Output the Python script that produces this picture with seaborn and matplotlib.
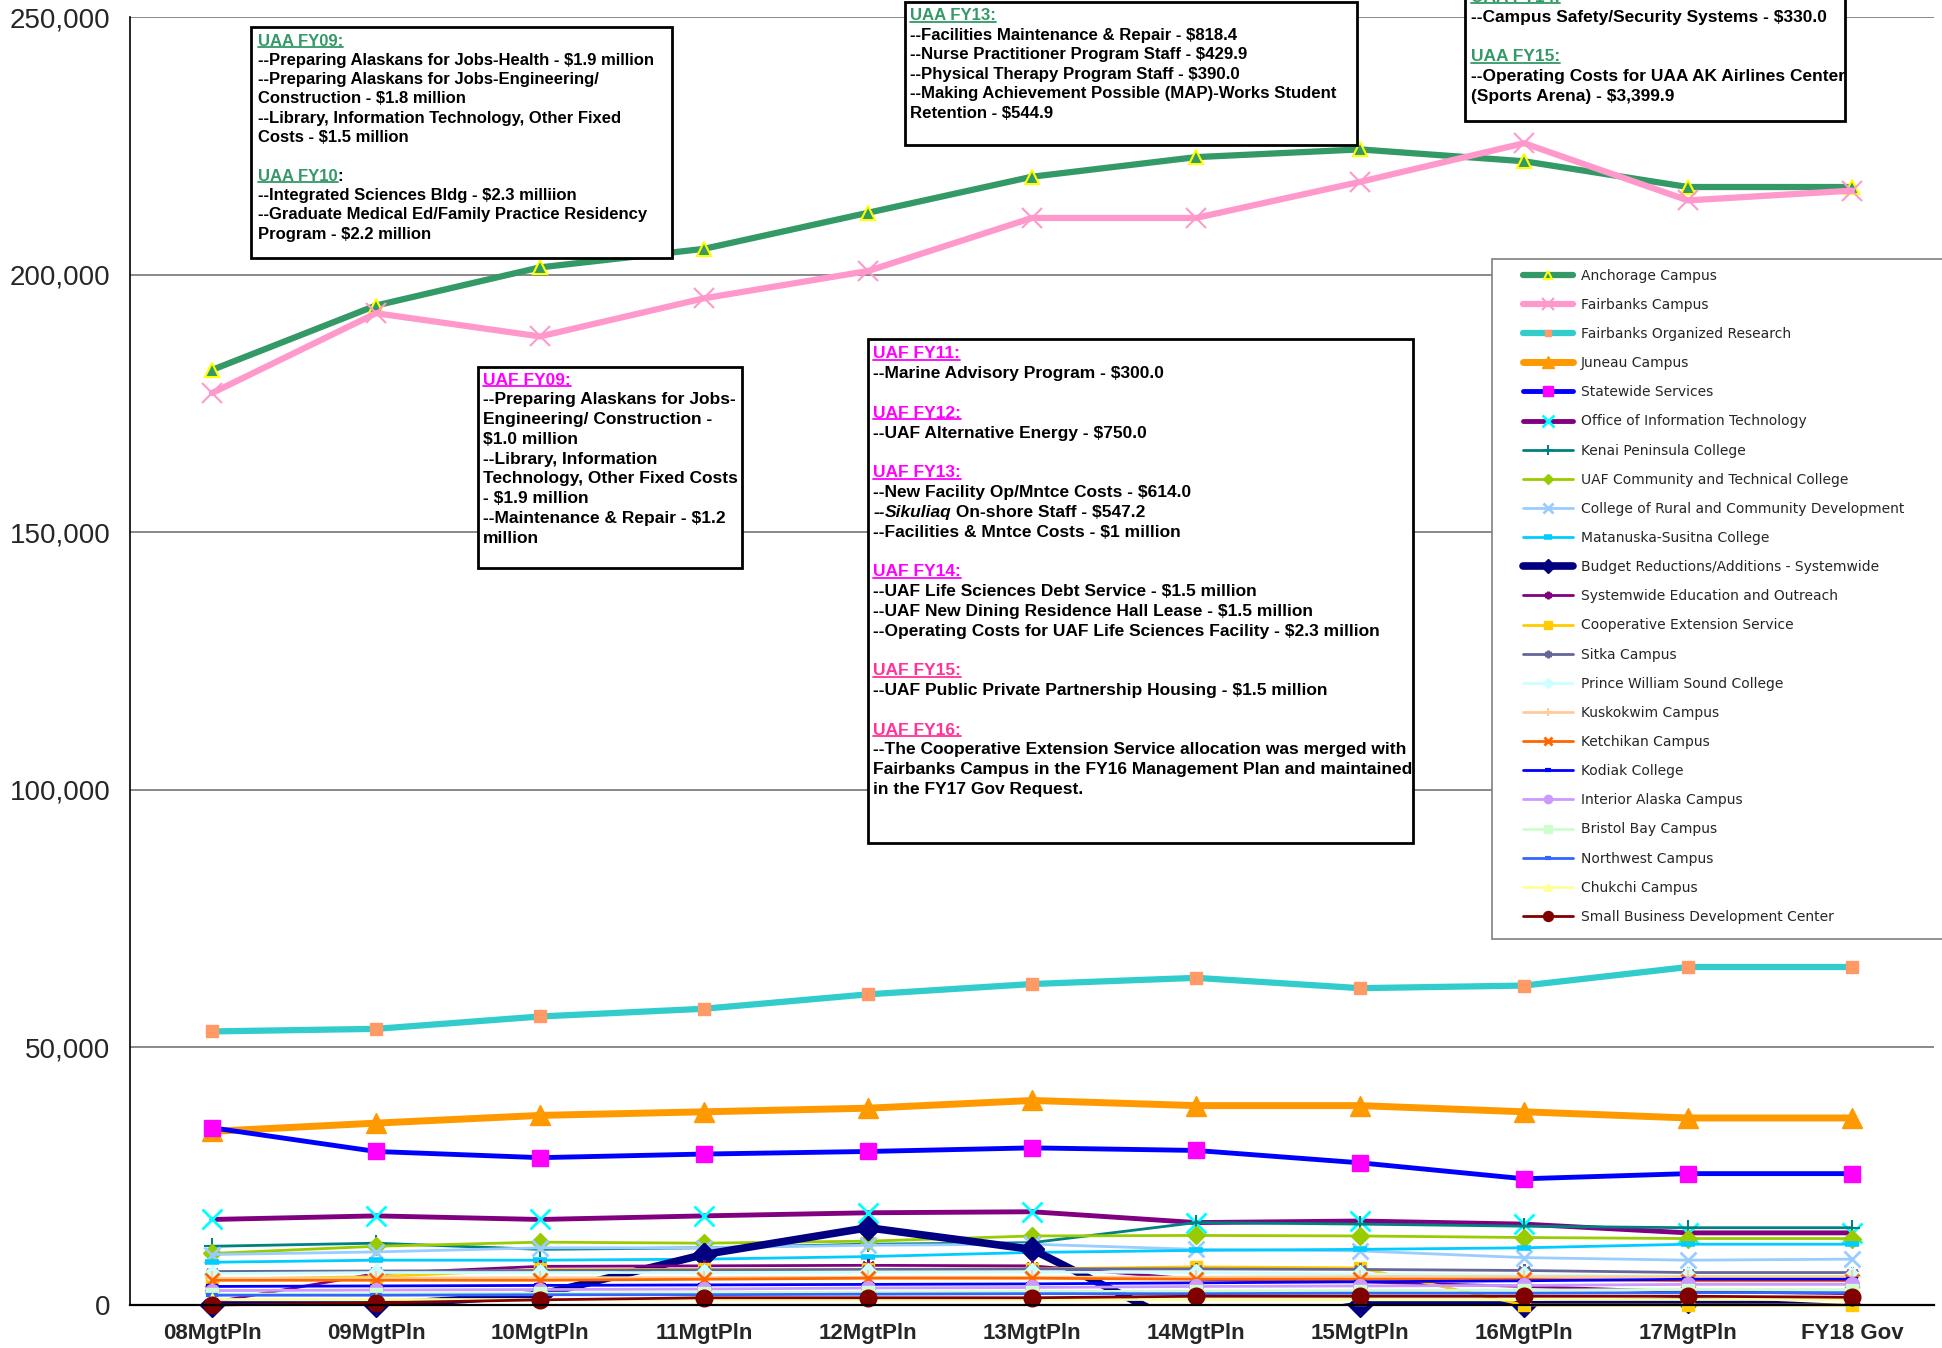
import pandas as pd
import seaborn as sns
import matplotlib.pyplot as plt
from matplotlib import font_manager
from matplotlib.patches import Rectangle
from matplotlib.lines import Line2D
from matplotlib.ticker import FuncFormatter, FixedLocator

# ---- data ----
periods = ["08MgtPln", "09MgtPln", "10MgtPln", "11MgtPln", "12MgtPln", "13MgtPln",
           "14MgtPln", "15MgtPln", "16MgtPln", "17MgtPln", "FY18 Gov"]

anchorage = [181500, 194000, 201400, 205000, 212000, 219000, 222800, 224300, 222000, 217000, 217000]
fairbanks = [177000, 192500, 188000, 195400, 200700, 211000, 211000, 218000, 225500, 214400, 216300]
fbx_research = [53100, 53600, 56000, 57500, 60300, 62300, 63500, 61500, 62000, 65600, 65600]
juneau = [33700, 35300, 36800, 37500, 38200, 39700, 38700, 38700, 37500, 36300, 36300]
statewide = [34400, 29800, 28600, 29300, 29800, 30500, 30000, 27600, 24500, 25500, 25500]
oit = [16600, 17300, 16600, 17300, 17900, 18100, 16000, 16300, 15700, 14000, 14000]
kenai = [11400, 12000, 10800, 11100, 11800, 12100, 16000, 15700, 15300, 15000, 15000]
uaf_ctc = [10000, 11400, 12200, 12000, 12400, 13400, 13500, 13400, 13100, 12900, 12900]
crcd = [9800, 10300, 11100, 11100, 11600, 11800, 10800, 10500, 9200, 8700, 8900]
matsu = [8300, 8700, 8700, 8900, 9400, 10200, 10600, 10800, 11100, 11800, 11800]
budget = [0, 0, 2000, 9800, 15000, 10800, -5200, 0, 0, 800, -600]
sw_outreach = [500, 6100, 7500, 7600, 7700, 7600, 5000, 4500, 3600, 2600, 2200]
coop_ext = [5000, 5500, 6900, 6900, 6900, 7000, 7400, 7200, 0, 0, 0]
sitka = [6500, 6600, 6700, 6800, 6900, 7000, 7000, 6900, 6700, 6300, 6300]
pwsc = [6100, 6300, 6300, 6300, 6400, 6400, 6300, 6000, 5800, 5600, 5600]
kuskokwim = [5200, 5200, 5300, 5300, 5400, 5400, 5400, 5500, 5500, 5500, 5500]
ketchikan = [4800, 4800, 4800, 5000, 5200, 5200, 5000, 5000, 5000, 4700, 4700]
kodiak = [3600, 3700, 3800, 3900, 4000, 4100, 4300, 4500, 4700, 5000, 5000]
interior = [2800, 2900, 3000, 3100, 3300, 3400, 3600, 3700, 3800, 4000, 4000]
bristol = [2100, 2200, 2300, 2400, 2500, 2600, 2700, 2800, 2900, 3000, 3000]
northwest = [1900, 1900, 2000, 2000, 2100, 2200, 2200, 2300, 2300, 2400, 2400]
chukchi = [1100, 1100, 1100, 1100, 1100, 1100, 1100, 1100, 1100, 1100, 1100]
sbdc = [0, 400, 1000, 1400, 1400, 1400, 1700, 1700, 1700, 1700, 1500]

series = {
    "Anchorage Campus": anchorage,
    "Fairbanks Campus": fairbanks,
    "Fairbanks Organized Research": fbx_research,
    "Juneau Campus": juneau,
    "Statewide Services": statewide,
    "Office of Information Technology": oit,
    "Kenai Peninsula College": kenai,
    "UAF Community and Technical College": uaf_ctc,
    "College of Rural and Community Development": crcd,
    "Matanuska-Susitna College": matsu,
    "Budget Reductions/Additions - Systemwide": budget,
    "Systemwide Education and Outreach": sw_outreach,
    "Cooperative Extension Service": coop_ext,
    "Sitka Campus": sitka,
    "Prince William Sound College": pwsc,
    "Kuskokwim Campus": kuskokwim,
    "Ketchikan Campus": ketchikan,
    "Kodiak College": kodiak,
    "Interior Alaska Campus": interior,
    "Bristol Bay Campus": bristol,
    "Northwest Campus": northwest,
    "Chukchi Campus": chukchi,
    "Small Business Development Center": sbdc,
}

# line colour, marker, marker face, marker edge, line width, marker size, marker edge width
styles = {
    "Anchorage Campus": ("#339966", "^", "#339966", "#FFFF00", 4.5, 10, 1.5),
    "Fairbanks Campus": ("#FF99CC", "x", "#FF99CC", "#FF99CC", 4.5, 14, 1.5),
    "Fairbanks Organized Research": ("#33CCCC", "s", "#FF9966", "#FF9966", 4.5, 8, 1),
    "Juneau Campus": ("#FF9900", "^", "#FF9900", "#FF9900", 5, 14, 1),
    "Statewide Services": ("#0000FF", "s", "#FF00FF", "#FF00FF", 3.5, 12, 1),
    "Office of Information Technology": ("#800080", "x", "#00FFFF", "#00FFFF", 3.5, 14, 2),
    "Kenai Peninsula College": ("#008080", "+", "#008080", "#008080", 2, 12, 1.5),
    "UAF Community and Technical College": ("#99CC00", "D", "#99CC00", "#99CC00", 2, 9, 1),
    "College of Rural and Community Development": ("#99CCFF", "x", "#99CCFF", "#99CCFF", 2, 12, 2),
    "Matanuska-Susitna College": ("#00CCFF", "_", "#00CCFF", "#00CCFF", 2, 10, 4),
    "Budget Reductions/Additions - Systemwide": ("#000080", "D", "#000080", "#000080", 5.5, 12, 1),
    "Systemwide Education and Outreach": ("#800080", (6, 2, 0), "#800080", "#800080", 2, 9, 2),
    "Cooperative Extension Service": ("#FFCC00", "s", "#FFCC00", "#FFCC00", 2, 9, 1),
    "Sitka Campus": ("#666699", (6, 2, 0), "#666699", "#666699", 2, 9, 2),
    "Prince William Sound College": ("#CCFFFF", "D", "#CCFFFF", "#CCFFFF", 2, 9, 1),
    "Kuskokwim Campus": ("#FFCC99", "+", "#FFCC99", "#FFCC99", 2, 10, 1.5),
    "Ketchikan Campus": ("#FF6600", "x", "#FF6600", "#FF6600", 2, 10, 2),
    "Kodiak College": ("#0000FF", "_", "#0000FF", "#0000FF", 2, 8, 3),
    "Interior Alaska Campus": ("#CC99FF", "o", "#CC99FF", "#CC99FF", 2, 10, 1),
    "Bristol Bay Campus": ("#CCFFCC", "s", "#CCFFCC", "#CCFFCC", 2, 9, 1),
    "Northwest Campus": ("#3366FF", "_", "#3366FF", "#3366FF", 2, 8, 3),
    "Chukchi Campus": ("#FFFF99", "^", "#FFFF99", "#FFFF99", 2, 9, 1),
    "Small Business Development Center": ("#800000", "o", "#800000", "#800000", 2, 12, 1),
}

W, H = 1942, 1348
sns.set_style("white")
plt.rcParams["font.family"] = ["Liberation Sans", "DejaVu Sans"]

fig = plt.figure(figsize=(W / 100, H / 100), dpi=100)
ax = fig.add_axes([130 / W, 1 - 1305 / H, 1804 / W, 1288 / H])

df = pd.DataFrame(series)
df["pos"] = range(len(periods))

for name in series:
    col, mk, mfc, mec, lw, ms, mew = styles[name]
    negative = min(series[name]) < 0
    sns.lineplot(data=df, x="pos", y=name, ax=ax, color=col, lw=lw, marker=mk,
                 mfc=mfc, mec=mec, ms=ms, mew=mew, label=name, sort=False,
                 clip_on=negative)
    if negative:
        keep = df[df[name] >= 0]
        ax.plot(keep["pos"], keep[name], ls="none", marker=mk, mfc=mfc, mec=mec,
                ms=ms, mew=mew, clip_on=False)

ax.set_xlim(-0.5, len(periods) - 0.5)
ax.set_ylim(0, 250000)
ax.set_xlabel("")
ax.set_ylabel("")
ax.set_xticks(range(len(periods)))
ax.set_xticklabels(periods, fontsize=16, fontweight="bold")
ax.xaxis.set_minor_locator(FixedLocator([i - 0.5 for i in range(len(periods) + 1)]))
ax.tick_params(axis="x", which="major", length=0, pad=13)
ax.tick_params(axis="x", which="minor", length=6, color="#808080", direction="out")
ax.set_yticks(range(0, 250001, 50000))
ax.yaxis.set_major_formatter(FuncFormatter(lambda v, p: f"{v:,.0f}"))
ax.tick_params(axis="y", length=6, color="#808080", labelsize=20, pad=8, direction="out")
ax.yaxis.grid(True, color="#808080", lw=1.3)
ax.set_axisbelow(True)
for s in ["top", "right"]:
    ax.spines[s].set_visible(False)
ax.spines["left"].set_color("black")
ax.spines["left"].set_linewidth(1.2)
ax.spines["bottom"].set_color("black")
ax.spines["bottom"].set_linewidth(1.6)

# legend: frame drawn separately so it can run off the right edge like the original
ax.add_patch(Rectangle((1492 / W, 1 - 939 / H), 470 / W, 680 / H, transform=fig.transFigure,
                       facecolor="white", edgecolor="#808080", lw=1.2, clip_on=False,
                       zorder=9))
handles, labels = ax.get_legend_handles_labels()
leg = ax.legend(handles, labels, loc="upper left", bbox_to_anchor=(1513 / W, 1 - 259 / H),
                bbox_transform=fig.transFigure, prop={"family": "DejaVu Sans", "size": 10},
                frameon=False, labelspacing=1.09, handlelength=3.6, handletextpad=0.6,
                borderpad=0.7, borderaxespad=0, markerscale=0.6)
leg.set_zorder(10)

# ---- annotation boxes ----
names = {f.name for f in font_manager.fontManager.ttflist}
box_font = "Liberation Sans Narrow" if "Liberation Sans Narrow" in names else "Liberation Sans"
renderer = fig.canvas.get_renderer()
UAA = "#339966"
UAF = "#FF00FF"
UAF2 = "#FF3399"


def fit_size(text, target):
    t = fig.text(0, 0, text, fontsize=10, fontweight="bold", family=box_font, parse_math=False)
    w = t.get_window_extent(renderer).width
    t.remove()
    return 10 * target / w


def note_box(rect, x_text, y_first, step, lines, ref_line, ref_width):
    x0, y0, x1, y1 = rect
    fig.add_artist(Rectangle((x0 / W, 1 - y1 / H), (x1 - x0) / W, (y1 - y0) / H,
                             transform=fig.transFigure, facecolor="white",
                             edgecolor="black", lw=2, zorder=20))
    size = fit_size(ref_line, ref_width)
    for i, runs in enumerate(lines):
        y = 1 - (y_first + i * step) / H
        x = x_text
        for text, kind, color in runs:
            t = fig.text(x / W, y, text, fontsize=size, fontweight="bold",
                         fontstyle="italic" if kind == "i" else "normal",
                         color=color, family=box_font, va="center", ha="left",
                         zorder=21, parse_math=False)
            bb = t.get_window_extent(renderer)
            if kind == "u":
                uy = (bb.y0 + 0.12 * size) / H
                fig.add_artist(Line2D([bb.x0 / W, bb.x1 / W], [uy, uy], color=color,
                                      lw=1.3, transform=fig.transFigure, zorder=21))
            x = bb.x1


def b(text):
    return [(text, "b", "black")]


def head(text, color, colon=""):
    runs = [(text, "u", color)]
    if colon:
        runs.append((colon, "b", "black"))
    return runs


box1 = [
    head("UAA FY09:", UAA),
    b("--Preparing Alaskans for Jobs-Health - $1.9 million"),
    b("--Preparing Alaskans for Jobs-Engineering/"),
    b("Construction - $1.8 million"),
    b("--Library, Information Technology, Other Fixed"),
    b("Costs - $1.5 million"),
    [],
    head("UAA FY10", UAA, ":"),
    b("--Integrated Sciences Bldg - $2.3 milliion"),
    b("--Graduate Medical Ed/Family Practice Residency"),
    b("Program - $2.2 million"),
]
box2 = [
    head("UAA FY13:", UAA),
    b("--Facilities Maintenance & Repair - $818.4"),
    b("--Nurse Practitioner Program Staff - $429.9"),
    b("--Physical Therapy Program Staff - $390.0"),
    b("--Making Achievement Possible (MAP)-Works Student"),
    b("Retention - $544.9"),
]
box3 = [
    head("UAA FY14:", UAA),
    b("--Campus Safety/Security Systems - $330.0"),
    [],
    head("UAA FY15:", UAA),
    b("--Operating Costs for UAA AK Airlines Center"),
    b("(Sports Arena) - $3,399.9"),
]
box4 = [
    head("UAF FY09:", UAF),
    b("--Preparing Alaskans for Jobs-"),
    b("Engineering/ Construction -"),
    b("$1.0 million"),
    b("--Library, Information"),
    b("Technology, Other Fixed Costs"),
    b("- $1.9 million"),
    b("--Maintenance & Repair - $1.2"),
    b("million"),
]
box5 = [
    head("UAF FY11:", UAF),
    b("--Marine Advisory Program - $300.0"),
    [],
    head("UAF FY12:", UAF),
    b("--UAF Alternative Energy - $750.0"),
    [],
    head("UAF FY13:", UAF),
    b("--New Facility Op/Mntce Costs - $614.0"),
    [("--", "b", "black"), ("Sikuliaq", "i", "black"), (" On-shore Staff - $547.2", "b", "black")],
    b("--Facilities & Mntce Costs - $1 million"),
    [],
    head("UAF FY14:", UAF),
    b("--UAF Life Sciences Debt Service - $1.5 million"),
    b("--UAF New Dining Residence Hall Lease - $1.5 million"),
    b("--Operating Costs for UAF Life Sciences Facility - $2.3 million"),
    [],
    head("UAF FY15:", UAF2),
    b("--UAF Public Private Partnership Housing - $1.5 million"),
    [],
    head("UAF FY16:", UAF2),
    b("--The Cooperative Extension Service allocation was merged with"),
    b("Fairbanks Campus in the FY16 Management Plan and maintained"),
    b("in the FY17 Gov Request."),
]

note_box((251, 27, 672, 258), 258, 41, 19.3, box1,
         "--Preparing Alaskans for Jobs-Health - $1.9 million", 397)
note_box((905, 2, 1357, 145), 910, 16, 19.4, box2,
         "--Making Achievement Possible (MAP)-Works Student", 426)
note_box((1465, -30, 1845, 121), 1471, -2.5, 19.8, box3,
         "--Operating Costs for UAA AK Airlines Center", 374)
note_box((478, 367, 742, 568), 483, 380, 19.8, box4,
         "Technology, Other Fixed Costs", 255)
note_box((868, 339, 1413, 843), 873, 354, 19.8, box5,
         "--The Cooperative Extension Service allocation was merged with", 531)

fig.savefig("out.png", dpi=100)
